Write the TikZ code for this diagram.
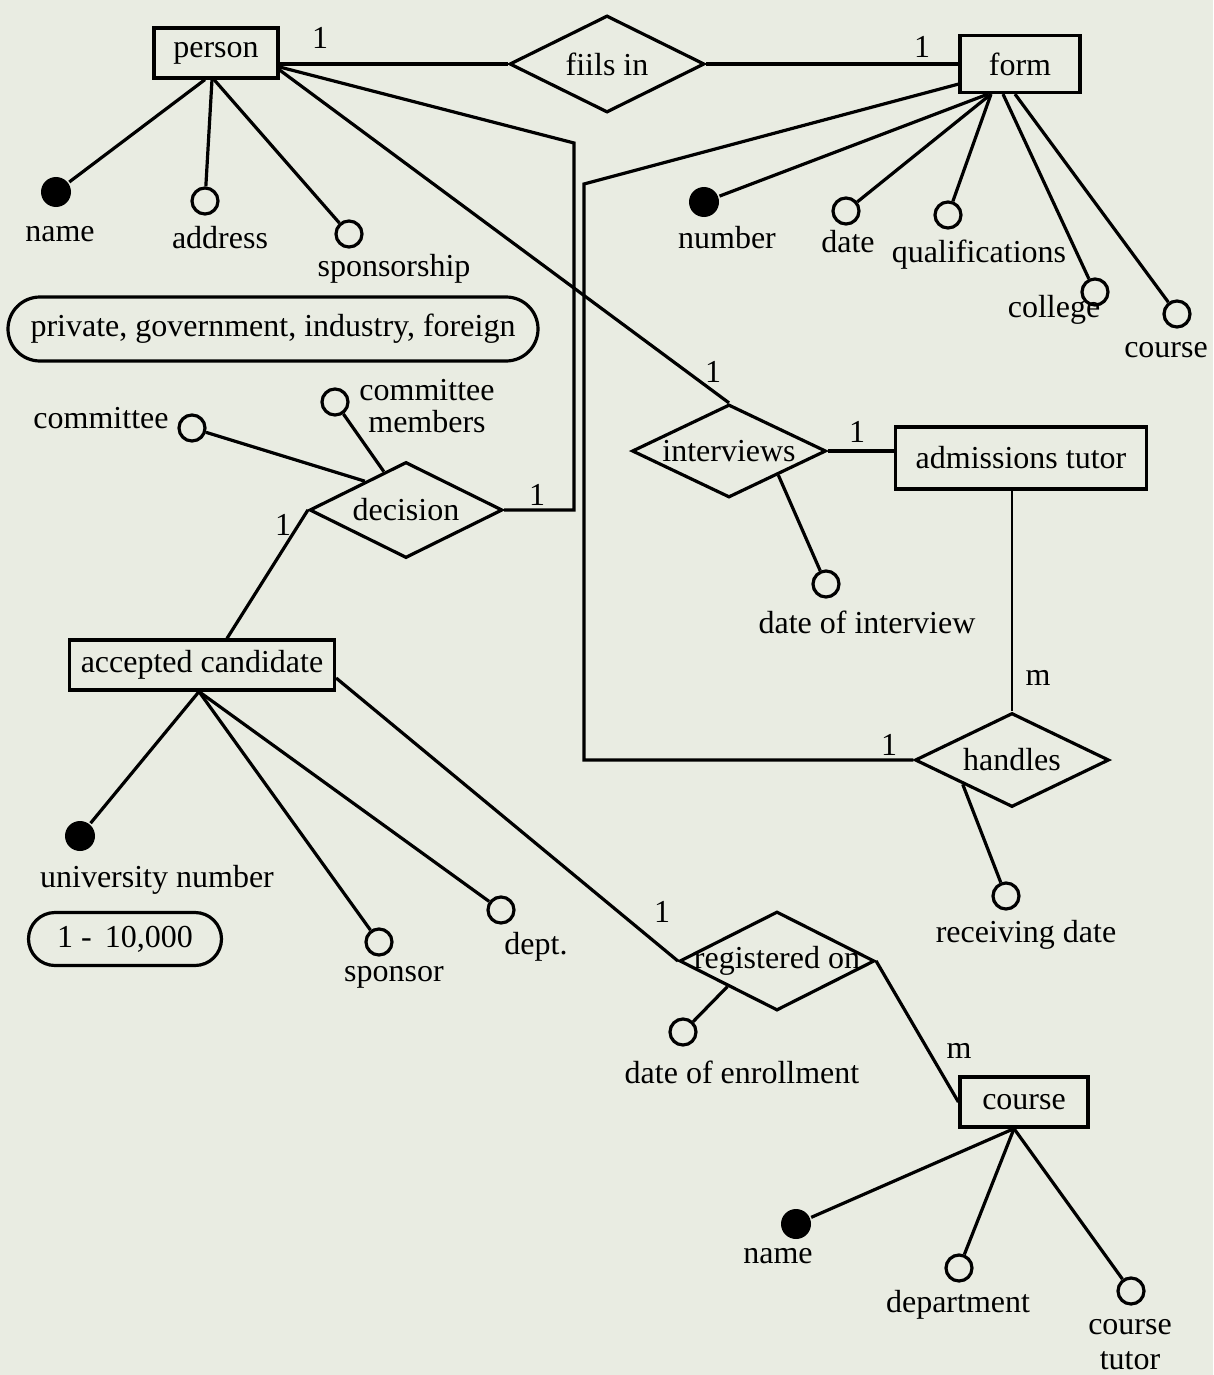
\documentclass[tikz,border=0pt]{standalone}
\usepackage{fontspec}
\setmainfont{Liberation Serif}
\usetikzlibrary{shapes.geometric,shapes.misc}
\definecolor{paper}{RGB}{233,236,226}

\begin{document}
\begin{tikzpicture}[x=1pt, y=-1pt, line width=3.2pt, font=\fontsize{32}{35}\selectfont,
	entity/.style={rectangle, draw, inner sep=0pt},
	rel/.style={diamond, draw, inner sep=0pt, label=center:#1},
	attr/.style={circle, draw, minimum size=26, inner sep=0pt},
	key/.style={circle, fill=black, minimum size=30, inner sep=0pt},
	valuebox/.style={rounded rectangle, draw, inner sep=0pt},
	card/.style={inner sep=0pt}]
	\fill[paper] (0,0) rectangle (1213,1375);
	\useasboundingbox (0,0) rectangle (1213,1375);

	% entities and relationships
	\node[entity, minimum width=124, minimum height=50] (person) at (216,53) {person};
	\node[rel=fiils in, minimum width=195, minimum height=97] (fillsin) at (607,64) {};
	\node[entity, minimum width=120, minimum height=57] (form) at (1020,64) {form};
	\node[rel=decision, minimum width=193, minimum height=96] (decision) at (406,510) {};
	\node[rel=interviews, minimum width=194, minimum height=93] (interviews) at (729,451) {};
	\node[entity, minimum width=251, minimum height=62] (admtutor) at (1021,458) {admissions tutor};
	\node[rel=handles, minimum width=194, minimum height=94] (handles) at (1012,760) {};
	\node[entity, minimum width=265, minimum height=50] (acccand) at (202,665) {accepted candidate};
	\node[rel=registered on, minimum width=195, minimum height=99] (regon) at (777,961) {};
	\node[entity, minimum width=128, minimum height=50] (course) at (1024,1102) {course};

	% attributes
	\node[key] (pname) at (56,192) {};
	\node[attr] (paddr) at (205,201) {};
	\node[attr] (pspons) at (349,234) {};
	\node[valuebox, minimum width=530, minimum height=64] (spdom) at (273,329) {private, government, industry, foreign};
	\node[key] (fnum) at (704,202) {};
	\node[attr] (fdate) at (846,211) {};
	\node[attr] (fqual) at (948,215) {};
	\node[attr] (fcoll) at (1095,292) {};
	\node[attr] (fcourse) at (1177,314) {};
	\node[attr] (comm) at (192,428) {};
	\node[attr] (cmem) at (335,402) {};
	\node[attr] (dint) at (826,584) {};
	\node[key] (unum) at (80,836) {};
	\node[valuebox, minimum width=193, minimum height=53] (undom) at (125,939) {1 -\, 10,000};
	\node[attr] (spon) at (379,942) {};
	\node[attr] (dept) at (501,910) {};
	\node[attr] (recv) at (1006,896) {};
	\node[attr] (denr) at (683,1032) {};
	\node[key] (cname) at (796,1224) {};
	\node[attr] (cdept) at (959,1268) {};
	\node[attr] (ctut) at (1131,1291) {};

	% attribute names
	\node (tpname) at (60,234) {name};
	\node (tpaddr) at (220,238) {address};
	\node (tpspons) at (394,269) {sponsorship};
	\node (tfnum) at (727,238) {number};
	\node (tfdate) at (848,242) {date};
	\node (tfqual) at (979,255) {qualifications};
	\node (tfcoll) at (1054,310) {college};
	\node (tfcourse) at (1166,350) {course};
	\node (tcomm) at (101,418) {committee};
	\node[inner sep=0pt] (tcmem1) at (427,390) {committee};
	\node[inner sep=0pt] (tcmem2) at (427,422) {members};
	\node (tdint) at (867,622) {date of interview};
	\node (tun) at (157,880) {university number};
	\node (tspon) at (394,977) {sponsor};
	\node (tdept) at (536,947) {dept.};
	\node (trecv) at (1026,935) {receiving date};
	\node (tdenr) at (742,1072) {date of enrollment};
	\node (tcname) at (778,1256) {name};
	\node (tcdept) at (958,1305) {department};
	\node[align=center] (tctut) at (1130,1345) {course\\tutor};

	% cardinalities
	\node[card] (c1) at (320,38) {1};
	\node[card] (c2) at (922,47) {1};
	\node[card] (c3) at (713,372) {1};
	\node[card] (c4) at (857,432) {1};
	\node[card] (c5) at (537,495) {1};
	\node[card] (c6) at (283,525) {1};
	\node[card] (c7) at (1038,678) {m};
	\node[card] (c8) at (889,745) {1};
	\node[card] (c9) at (662,912) {1};
	\node[card] (c10) at (959,1051) {m};

	% relationships
	\coordinate (bend1) at (574,143);
	\coordinate (bend2) at (584,184);
	\draw (person.east |- fillsin) -- (fillsin.west);
	\draw (fillsin.east) -- (form.west |- fillsin.east);
	\draw ([yshift=-14]person.east) -- (bend1) |- (decision.east);
	\draw ([yshift=-17]person.east) -- (interviews.north);
	\draw ([yshift=10]form.south west) -- (bend2) |- (handles.west);
	\draw (interviews.east) -- (admtutor.west |- interviews.east);
	\draw[line width=2.2pt] (handles.north |- admtutor.south) -- (handles.north);
	\draw (decision.west) -- ([xshift=25]acccand.north);
	\draw ([yshift=-13]acccand.east) -- (regon.west);
	\draw (regon.east) -- (course.west);

	% attribute links
	\draw ([xshift=-11]person.south) -- (pname);
	\draw ([xshift=-4]person.south) -- (paddr);
	\draw ([xshift=-2]person.south) -- (pspons);
	\draw ([xshift=-32]form.south) -- (fnum);
	\draw ([xshift=-29]form.south) -- (fdate);
	\draw ([xshift=-29]form.south) -- (fqual);
	\draw ([xshift=-17]form.south) -- (fcoll);
	\draw ([xshift=-5]form.south) -- (fcourse);
	\draw (decision.145) -- (comm);
	\draw (decision.120) -- (cmem);
	\draw (interviews.south east) -- (dint);
	\draw (handles.south west) -- (recv);
	\draw (regon.south west) -- (denr);
	\draw ([xshift=-3]acccand.south) -- (unum);
	\draw ([xshift=-3]acccand.south) -- (spon);
	\draw ([xshift=-3]acccand.south) -- (dept);
	\draw ([xshift=-10]course.south) -- (cname);
	\draw ([xshift=-10]course.south) -- (cdept);
	\draw ([xshift=-10]course.south) -- (ctut);
\end{tikzpicture}
\end{document}
